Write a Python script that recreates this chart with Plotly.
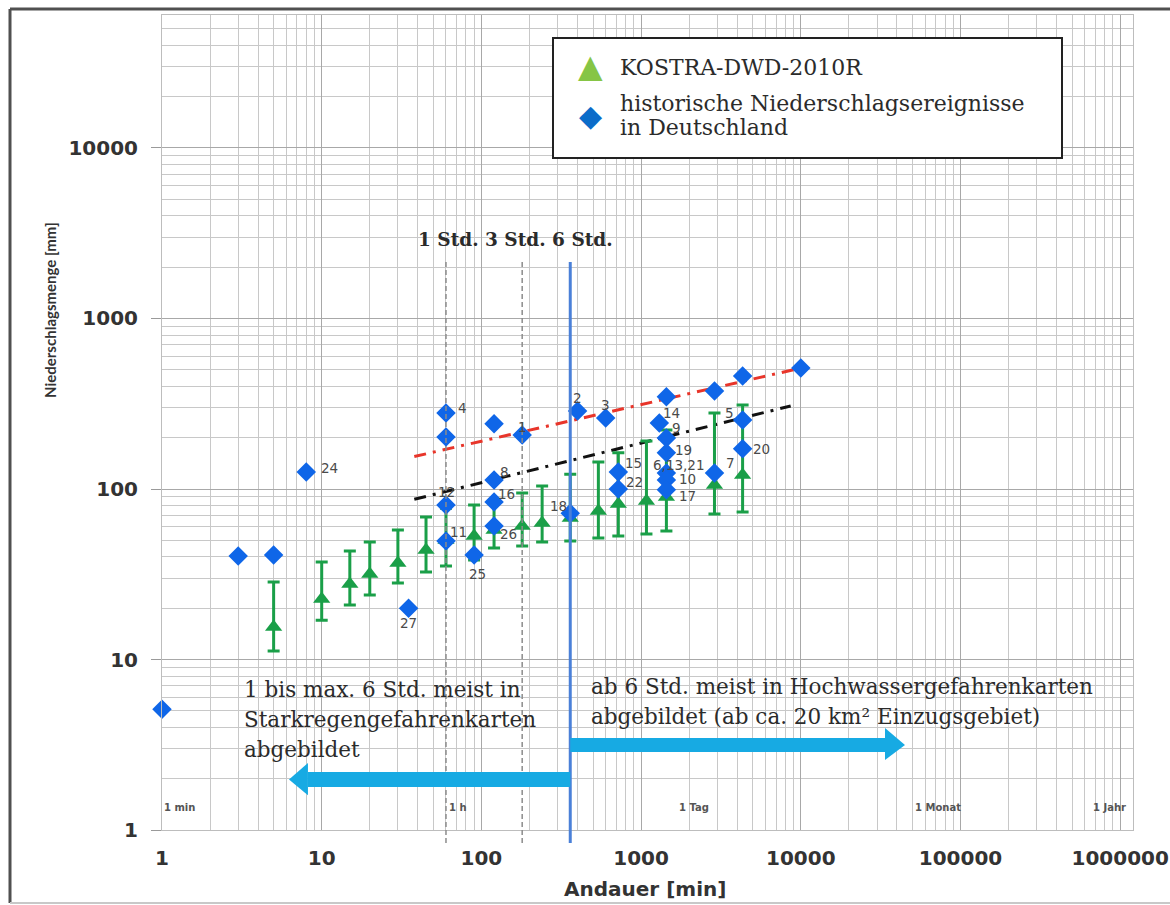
import math
import plotly.graph_objects as go

# KOSTRA-DWD-2010R: Dauerstufen [min] mit Mittel, Min und Max [mm]
kostra_dauer = [5, 10, 15, 20, 30, 45, 60, 90, 120, 180, 240, 360, 540, 720, 1080, 1440, 2880, 4320]
kostra_mitte = [15.5, 22.6, 27.7, 31.7, 36.8, 43.9, 50.2, 53.0, 57.5, 60.7, 63.2, 67.6, 74.3, 81.7, 85.1, 89.8, 105.5, 120.8]
kostra_min = [11.2, 17.0, 20.9, 23.9, 28.1, 32.6, 35.4, 38.3, 45.1, 46.3, 48.9, 49.5, 51.6, 53.0, 54.5, 56.7, 71.3, 73.3]
kostra_max = [28.5, 37.3, 43.3, 48.9, 57.5, 68.5, 77.0, 80.5, 86.0, 94.8, 104, 122, 144, 163, 191, 222, 279, 311]

# historische Niederschlagsereignisse
hist_dauer = [1, 3, 5, 8, 35, 60, 60, 60, 60, 90, 120, 120, 120, 120, 180, 360, 400, 600, 720, 720,
              1300, 1440, 1440, 1440, 1440, 1440, 1440, 2880, 2880, 4320, 4320, 4320, 10000]
hist_menge = [5.1, 40.5, 41, 126, 20, 279, 202, 80.5, 49.5, 41, 241, 113, 84, 60.7, 207, 72, 287, 261, 126, 100,
              244, 347, 199, 163, 124, 113, 99, 376, 124, 460, 254, 172, 512]
hist_nr = ['', '', '', '24', '27', '4', '', '12', '11', '25', '', '8', '16', '26', '1', '18', '2', '3', '15', '22',
           '14', '', '9', '19', '6,13,21', '10', '17', '', '7', '', '5', '20', '']
# Lage der Nummern relativ zum Punkt (px) und Ausrichtung
nr_dx = [0, 0, 0, 14, 0, 11, 0, 1, 3, 3, 0, 5, 3, 5, 0, -2, 0, 0, 6, 7,
         3, 0, 5, 8, -14, 12, 12, 0, 11, 0, -8, 9, 0]
nr_dy = [0, 0, 0, 4, -15, 5, 0, 13, 9, -19, 0, 8, 8, -8, 8, 7, 13, 13, 9, 7,
         10, 0, 10, 3, 8, 1, -6, 0, 10, 0, 7, 0, 0]
nr_anker = ['left', 'left', 'left', 'left', 'center', 'left', 'left', 'center', 'left', 'center', 'left', 'left',
            'left', 'left', 'center', 'right', 'center', 'center', 'left', 'left',
            'left', 'left', 'left', 'left', 'left', 'left', 'left', 'left', 'left', 'left', 'right', 'left', 'left']

# Trendlinien
trend_rot_x = [38, 10000]
trend_rot_y = [155, 512]
trend_schwarz_x = [38, 8640]
trend_schwarz_y = [87, 307]

# Achsen
tick_werte = [1, 10, 100, 1000, 10000, 100000, 1000000]
tick_texte = ['1', '10', '100', '1000', '10000', '100000', '1000000']
y_tick_werte = [1, 10, 100, 1000, 10000]
y_tick_texte = ['1', '10', '100', '1000', '10000']

# Zeitmarken (Dauer in min)
std_linien = [60, 180]
grenze_6h = 360

GREEN = '#1a9f48'
BLUE = '#0f66e8'
SERIF = 'DejaVu Serif'
SANS = 'DejaVu Sans'


def px_x(px):
    return (px - 162) / 971


def px_y(py):
    return (830 - py) / 815


fig = go.Figure()

fig.add_trace(go.Scatter(
    x=trend_rot_x, y=trend_rot_y, mode='lines',
    line=dict(color='#e8352a', width=3, dash='12px,7px,3px,7px'), showlegend=False))
fig.add_trace(go.Scatter(
    x=trend_schwarz_x, y=trend_schwarz_y, mode='lines',
    line=dict(color='#111111', width=3, dash='12px,7px,3px,7px'), showlegend=False))

fig.add_trace(go.Scatter(
    x=kostra_dauer, y=kostra_mitte, mode='markers', name='KOSTRA-DWD-2010R',
    marker=dict(symbol='triangle-up', size=15, color=GREEN),
    error_y=dict(type='data', symmetric=False,
                 array=[hi - m for hi, m in zip(kostra_max, kostra_mitte)],
                 arrayminus=[m - lo for lo, m in zip(kostra_min, kostra_mitte)],
                 color=GREEN, thickness=3, width=6),
    showlegend=False))

fig.add_trace(go.Scatter(
    x=hist_dauer, y=hist_menge, mode='markers', name='historische Niederschlagsereignisse',
    marker=dict(symbol='diamond', size=15, color=BLUE),
    cliponaxis=False, showlegend=False))

shapes = []
# weisses Band fuer Zeitmarken
shapes.append(dict(type='rect', xref='paper', yref='y', x0=0, x1=1, y0=1.26, y1=1.67,
                   fillcolor='white', line=dict(width=0), layer='between'))
for d in std_linien:
    shapes.append(dict(type='line', xref='x', yref='paper', x0=d, x1=d, y0=-0.016, y1=px_y(262),
                       line=dict(color='#8c8c8c', width=1.5, dash='5px,3px')))
shapes.append(dict(type='line', xref='x', yref='paper', x0=grenze_6h, x1=grenze_6h, y0=-0.016, y1=px_y(262),
                   line=dict(color='#4a80d8', width=3)))

# Pfeile
ARROW = '#17aae3'
shapes.append(dict(type='line', xref='x', yref='y', x0=grenze_6h, x1=8.2, y0=1.98, y1=1.98,
                   line=dict(color=ARROW, width=15)))
shapes.append(dict(type='path', xref='x', yref='y', path='M 8.2,2.47 L 6.24,1.98 L 8.2,1.6 Z',
                   fillcolor=ARROW, line=dict(width=0)))
shapes.append(dict(type='line', xref='x', yref='y', x0=grenze_6h, x1=33660, y0=3.15, y1=3.15,
                   line=dict(color=ARROW, width=14)))
shapes.append(dict(type='path', xref='x', yref='y', path='M 33660,3.97 L 44900,3.15 L 33660,2.57 Z',
                   fillcolor=ARROW, line=dict(width=0)))

# Legende (Kasten)
shapes.append(dict(type='rect', xref='paper', yref='paper', x0=px_x(553), x1=px_x(1062),
                   y0=px_y(158), y1=px_y(38), fillcolor='white', line=dict(color='#222', width=2)))
# Rahmen (oben, links, unten)
RAHMEN = dict(color='#505050', width=3)
shapes.append(dict(type='line', xref='paper', yref='paper', x0=px_x(10), x1=px_x(1175),
                   y0=px_y(9), y1=px_y(9), line=RAHMEN))
shapes.append(dict(type='line', xref='paper', yref='paper', x0=px_x(10), x1=px_x(10),
                   y0=px_y(9), y1=px_y(903), line=RAHMEN))
shapes.append(dict(type='line', xref='paper', yref='paper', x0=px_x(10), x1=px_x(1175),
                   y0=px_y(903), y1=px_y(903), line=dict(color='#c8c8c8', width=2)))

ann = []


def txt(text, x, y, size, family=SERIF, color='#2b2b2b', xanchor='left', **kw):
    ann.append(dict(text=text, xref='paper', yref='paper', x=x, y=y, xanchor=xanchor, yanchor='middle',
                    showarrow=False, font=dict(family=family, size=size, color=color), **kw))


# Nummern der Ereignisse
for d, m, nr, dx, dy, anker in zip(hist_dauer, hist_menge, hist_nr, nr_dx, nr_dy, nr_anker):
    if nr:
        ann.append(dict(text=nr, xref='x', yref='y', x=math.log10(d), y=math.log10(m),
                        xanchor=anker, yanchor='middle', xshift=dx, yshift=dy, showarrow=False,
                        borderpad=0, font=dict(family=SANS, size=13.5, color='#4a4a4a')))

txt('<b>1 Std. 3 Std. 6 Std.</b>', px_x(416), px_y(240), 18.5)
txt('1 bis max. 6 Std. meist in', px_x(242), px_y(689), 21.5)
txt('Starkregengefahrenkarten', px_x(242), px_y(719), 21.5)
txt('abgebildet', px_x(242), px_y(749), 21.5)
txt('ab 6 Std. meist in Hochwassergefahrenkarten', px_x(589), px_y(686), 21.5)
txt('abgebildet (ab ca. 20 km² Einzugsgebiet)', px_x(589), px_y(716), 21.5)

for lab, px in [('1 min', 162), ('1 h', 447), ('1 Tag', 677), ('1 Monat', 913), ('1 Jahr', 1091)]:
    txt('<b>' + lab + '</b>', px_x(px), px_y(807), 10, family=SANS, color='#555')

# Legende Eintraege
txt('▲', px_x(590), px_y(66), 32, family=SANS, color='#86c545', xanchor='center')
txt('◆', px_x(590), px_y(116), 30, family=SANS, color='#0b6cc9', xanchor='center')
txt('KOSTRA-DWD-2010R', px_x(618), px_y(68), 22)
txt('historische Niederschlagsereignisse', px_x(618), px_y(103), 22)
txt('in Deutschland', px_x(618), px_y(128), 22)

# Achsentitel
txt('<b>Andauer [min]</b>', px_x(645), px_y(889), 20, family=SANS, color='#333', xanchor='center')
txt('<b>Niederschlagsmenge [mm]</b>', px_x(50), px_y(310), 15, family='Lato', color='#333',
    xanchor='center', textangle=-90)

fig.update_layout(
    width=1170, height=905,
    margin=dict(l=162, r=37, t=15, b=75),
    paper_bgcolor='white', plot_bgcolor='white',
    shapes=shapes, annotations=ann,
    xaxis=dict(type='log', range=[0, 6.08], tickvals=tick_werte, ticktext=tick_texte,
               ticks='', ticklabelstandoff=10, automargin=False,
               tickfont=dict(family=SANS, size=20, color='#333', weight='bold'),
               showgrid=True, gridcolor='#a8a8a8', gridwidth=1.3,
               minor=dict(dtick='D1', showgrid=True, gridcolor='#c8c8c8', gridwidth=1),
               showline=True, mirror=True, linecolor='#bdbdbd', linewidth=1, zeroline=False),
    yaxis=dict(type='log', range=[0, 4.78], tickvals=y_tick_werte, ticktext=y_tick_texte,
               ticks='outside', ticklen=10, tickcolor='#9a9a9a', ticklabelstandoff=9, automargin=False,
               tickfont=dict(family=SANS, size=20, color='#333', weight='bold'),
               showgrid=True, gridcolor='#a8a8a8', gridwidth=1.3,
               minor=dict(dtick='D1', showgrid=True, gridcolor='#c8c8c8', gridwidth=1),
               showline=True, mirror=True, linecolor='#bdbdbd', linewidth=1, zeroline=False),
)

fig.write_html("out.html", config={'displayModeBar': False},
               post_script="document.body.style.margin='0';document.body.style.overflow='hidden';")
